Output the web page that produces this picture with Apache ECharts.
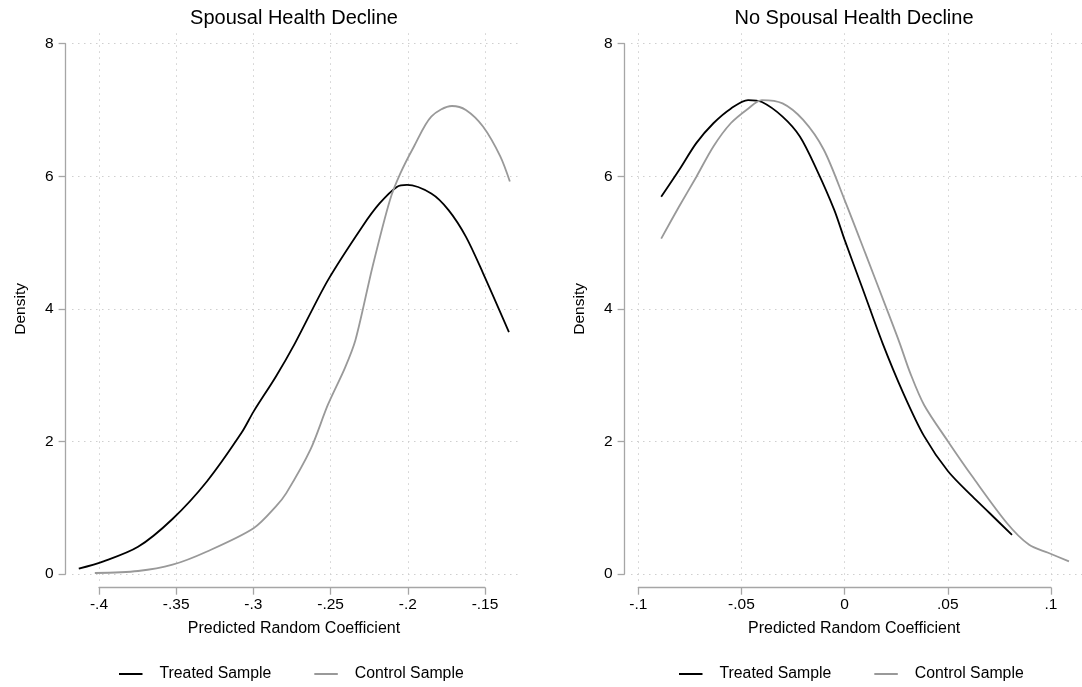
<!DOCTYPE html>
<html>
<head>
<meta charset="utf-8">
<script src="https://cdn.jsdelivr.net/npm/echarts@6/dist/echarts.min.js"></script>
<style>html,body{margin:0;padding:0;background:#fff}#c{width:1082px;height:687px}</style>
</head>
<body>
<div id="c"></div>
<script>
// ---- data ----
const leftTreatedX = [-0.4131,-0.3971,-0.3747,-0.3524,-0.3300,-0.3077,-0.2999,-0.2854,-0.2731,-0.2518,-0.2295,-0.2183,-0.2071,-0.2005,-0.1848,-0.1736,-0.1624,-0.1513,-0.1345];
const leftTreatedY = [0.08,0.19,0.41,0.83,1.40,2.13,2.45,2.98,3.48,4.43,5.24,5.59,5.84,5.87,5.74,5.49,5.09,4.54,3.65];
const leftControlX = [-0.4027,-0.3747,-0.3524,-0.3300,-0.2999,-0.2854,-0.2787,-0.2630,-0.2518,-0.2407,-0.2339,-0.2228,-0.2116,-0.2049,-0.1960,-0.1848,-0.1714,-0.1624,-0.1513,-0.1401,-0.1339];
const leftControlY = [0.015,0.045,0.14,0.34,0.69,1.02,1.22,1.88,2.55,3.11,3.53,4.64,5.64,6.04,6.45,6.90,7.06,7.00,6.75,6.30,5.92];
const rightTreatedX = [-0.0889,-0.0803,-0.0719,-0.0636,-0.0552,-0.0468,-0.0401,-0.0301,-0.0217,-0.0134,-0.0050,0.0000,0.0084,0.0184,0.0284,0.0385,0.0501,0.0619,0.0702,0.0811];
const rightTreatedY = [5.69,6.09,6.50,6.80,7.02,7.15,7.12,6.90,6.60,6.09,5.49,5.04,4.33,3.48,2.73,2.08,1.55,1.17,0.92,0.59];
const rightControlX = [-0.0889,-0.0803,-0.0719,-0.0636,-0.0552,-0.0468,-0.0401,-0.0301,-0.0201,-0.0101,0.0000,0.0100,0.0200,0.0267,0.0318,0.0385,0.0501,0.0619,0.0786,0.0894,0.0986,0.1087];
const rightControlY = [5.06,5.54,5.99,6.45,6.80,7.02,7.15,7.10,6.85,6.40,5.64,4.84,4.03,3.48,3.03,2.55,2.00,1.47,0.77,0.44,0.32,0.19];

const leftXTicks = ['-.4','-.35','-.3','-.25','-.2','-.15'];
const rightXTicks = ['-.1','-.05','0','.05','.1'];
const yTicks = ['0','2','4','6','8'];
const panelTitles = ['Spousal Health Decline','No Spousal Health Decline'];
const xTitle = 'Predicted Random Coefficient';
const yTitle = 'Density';
const seriesNames = ['Treated Sample','Control Sample'];

const pairs = (xs, ys) => xs.map((x, i) => [x, ys[i]]);

// ---- styling ----
const FONT = '"Liberation Sans", Arial, Helvetica, sans-serif';
const AXIS_COLOR = '#a6a6a6';
const GRID_COLOR = '#cfcfcf';
const TREATED_COLOR = '#000000';
const CONTROL_COLOR = '#999999';
const dotted = { show: true, lineStyle: { color: GRID_COLOR, width: 1, type: [1.5, 4.5] } };

function hiddenAxis(extra) {
  return Object.assign({
    type: 'value', axisLine: { show: false, onZero: false }, axisTick: { show: false },
    axisLabel: { show: false }, splitLine: { show: false }
  }, extra);
}

// plot region (data) grid spans wider than the tick range, as in the reference
const panels = [
  { vg: { left: 99, top: 33.3, width: 386, height: 548.7 },
    hg: { left: 72, top: 43.7, width: 449.7, height: 530.3 },
    ag: { left: 99, top: 43.7, width: 386, height: 530.3 },
    xmin: -0.4, xmax: -0.15, dmin: -0.417487, dmax: -0.126231,
    ticks: leftXTicks, yOffset: 33.4, namePad: 4 },
  { vg: { left: 638.3, top: 33.3, width: 412.7, height: 548.7 },
    hg: { left: 631, top: 43.7, width: 451, height: 530.3 },
    ag: { left: 638.3, top: 43.7, width: 412.7, height: 530.3 },
    xmin: -0.1, xmax: 0.1, dmin: -0.103538, dmax: 0.115023,
    ticks: rightXTicks, yOffset: 13.7, namePad: 19 }
];

const grid = [], xAxis = [], yAxis = [];
panels.forEach((p) => {
  // vertical dotted gridlines
  grid.push(p.vg);
  xAxis.push(hiddenAxis({ gridIndex: grid.length - 1, min: p.xmin, max: p.xmax, interval: 0.05, splitLine: dotted }));
  yAxis.push(hiddenAxis({ gridIndex: grid.length - 1, min: 0, max: 1 }));
  // horizontal dotted gridlines + data
  grid.push(p.hg);
  xAxis.push(hiddenAxis({ gridIndex: grid.length - 1, min: p.dmin, max: p.dmax }));
  yAxis.push(hiddenAxis({ gridIndex: grid.length - 1, min: 0, max: 8, interval: 2, splitLine: dotted }));
  // visible axes
  grid.push(p.ag);
  const ticks = p.ticks;
  xAxis.push({
    type: 'value', gridIndex: grid.length - 1, min: p.xmin, max: p.xmax, interval: 0.05,
    position: 'bottom', offset: 13.7,
    axisLine: { show: true, onZero: false, lineStyle: { color: AXIS_COLOR, width: 1.3 } },
    axisTick: { show: true, inside: false, length: 7, lineStyle: { color: AXIS_COLOR, width: 1.3 } },
    axisLabel: { show: true, margin: 9, color: '#000', fontFamily: FONT, fontSize: 15.5,
      showMinLabel: true, showMaxLabel: true, formatter: (v, i) => ticks[i] },
    splitLine: { show: false },
    name: xTitle, nameLocation: 'middle', nameGap: 33,
    nameTextStyle: { color: '#000', fontFamily: FONT, fontSize: 16, padding: [0, 0, 0, p.namePad] }
  });
  yAxis.push({
    type: 'value', gridIndex: grid.length - 1, min: 0, max: 8, interval: 2,
    position: 'left', offset: p.yOffset,
    axisLine: { show: true, onZero: false, lineStyle: { color: AXIS_COLOR, width: 1.3 } },
    axisTick: { show: true, inside: false, length: 7, lineStyle: { color: AXIS_COLOR, width: 1.3 } },
    axisLabel: { show: true, margin: 12, color: '#000', fontFamily: FONT, fontSize: 15.5,
      showMinLabel: true, showMaxLabel: true, formatter: (v, i) => yTicks[i] },
    splitLine: { show: false },
    name: yTitle, nameLocation: 'middle', nameGap: 37, nameRotate: 90,
    nameTextStyle: { color: '#000', fontFamily: FONT, fontSize: 15.5 }
  });
});

function lineSeries(name, color, data, axisIdx) {
  return {
    type: 'line', name: name, data: data, xAxisIndex: axisIdx, yAxisIndex: axisIdx,
    showSymbol: false, symbol: 'none', smooth: 0.3, clip: false,
    color: color, itemStyle: { color: color },
    lineStyle: { color: color, width: 1.8 }
  };
}

const series = [
  lineSeries(seriesNames[0], TREATED_COLOR, pairs(leftTreatedX, leftTreatedY), 1),
  lineSeries(seriesNames[1], CONTROL_COLOR, pairs(leftControlX, leftControlY), 1),
  lineSeries(seriesNames[0], TREATED_COLOR, pairs(rightTreatedX, rightTreatedY), 4),
  lineSeries(seriesNames[1], CONTROL_COLOR, pairs(rightControlX, rightControlY), 4)
];

const legendBase = {
  top: 665, orient: 'horizontal', itemWidth: 23.5, itemHeight: 2, icon: 'rect',
  itemGap: 43, selectedMode: false, padding: 0, data: seriesNames,
  textStyle: { color: '#000', fontFamily: FONT, fontSize: 15.8, lineHeight: 18, padding: [0, 0, 0, 12] }
};

const option = {
  animation: false,
  backgroundColor: '#ffffff',
  title: [
    { text: panelTitles[0], left: 294, top: 8, textAlign: 'center', padding: 0,
      textStyle: { color: '#000', fontFamily: FONT, fontSize: 20, fontWeight: 'normal' } },
    { text: panelTitles[1], left: 854, top: 8, textAlign: 'center', padding: 0,
      textStyle: { color: '#000', fontFamily: FONT, fontSize: 20, fontWeight: 'normal' } }
  ],
  legend: [
    Object.assign({ left: 119 }, legendBase),
    Object.assign({ left: 679 }, legendBase)
  ],
  grid: grid,
  xAxis: xAxis,
  yAxis: yAxis,
  series: series
};

const chart = echarts.init(document.getElementById('c'), null, { renderer: 'canvas' });
chart.setOption(option);
</script>
</body>
</html>
